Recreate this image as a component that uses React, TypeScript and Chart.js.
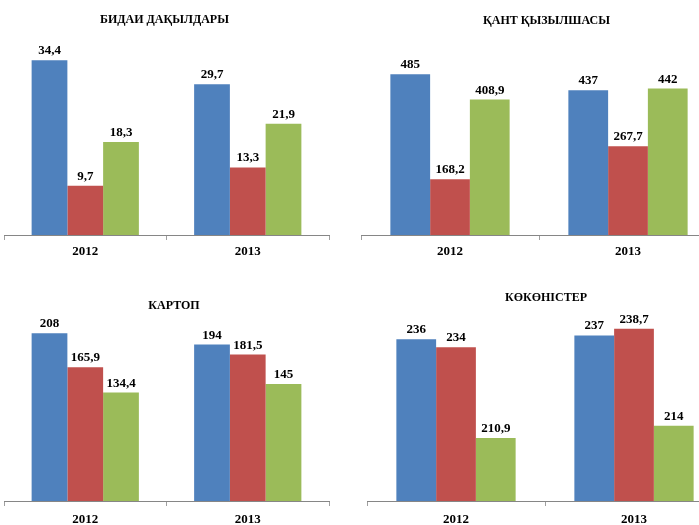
import React, { useEffect, useRef } from "react";
import { Chart, registerables } from "chart.js";

Chart.register(...registerables);

const years = ["2012", "2013"];
const seriesNames = ["Серия 1", "Серия 2", "Серия 3"];
const seriesColors = ["#4F81BD", "#C0504D", "#9BBB59"];

const wheatTitle = "БИДАИ ДАҚЫЛДАРЫ";
const wheatBlue = [34.4, 29.7];
const wheatRed = [9.7, 13.3];
const wheatGreen = [18.3, 21.9];

const sugarTitle = "ҚАНТ ҚЫЗЫЛШАСЫ";
const sugarBlue = [485, 437];
const sugarRed = [168.2, 267.7];
const sugarGreen = [408.9, 442];

const potatoTitle = "КАРТОП";
const potatoBlue = [208, 194];
const potatoRed = [165.9, 181.5];
const potatoGreen = [134.4, 145];

const vegTitle = "КӨКӨНІСТЕР";
const vegBlue = [236, 237];
const vegRed = [234, 238.7];
const vegGreen = [210.9, 214];

const FONT = '"Liberation Serif", "Times New Roman", serif';

const valueLabels = {
  id: "valueLabels",
  afterDatasetsDraw(chart: any) {
    const ctx = chart.ctx;
    ctx.save();
    ctx.font = `bold 13px ${FONT}`;
    ctx.fillStyle = "#000";
    ctx.textAlign = "center";
    ctx.textBaseline = "alphabetic";
    chart.data.datasets.forEach((ds: any, i: number) => {
      const meta = chart.getDatasetMeta(i);
      meta.data.forEach((el: any, j: number) => {
        const v = ds.data[j];
        ctx.fillText(String(v).replace(".", ","), el.x, el.y - 6);
      });
    });
    ctx.restore();
  },
};

type Panel = {
  title: string;
  series: number[][];
  left: number;
  top: number;
  width: number;
  height: number;
  padL: number;
  padR: number;
  padB: number;
  axisPos: "left" | "right";
  axisW: number;
  titleTop: number;
  titleBottom: number;
  tickPad: number;
  yMin: number;
  yMax: number;
  cat: number;
};

const panels: Panel[] = [
  {
    title: wheatTitle,
    series: [wheatBlue, wheatRed, wheatGreen],
    left: 0, top: 0, width: 349, height: 266,
    padL: 0, padR: 20, padB: 2, axisPos: "left", axisW: 4,
    titleTop: 12.3, titleBottom: 10, tickPad: 4.2,
    yMin: 0, yMax: 39.04, cat: 0.66,
  },
  {
    title: sugarTitle,
    series: [sugarBlue, sugarRed, sugarGreen],
    left: 349, top: 0, width: 400, height: 266,
    padL: 12, padR: 17, padB: 2, axisPos: "right", axisW: 15,
    titleTop: 13.3, titleBottom: 10, tickPad: 4.2,
    yMin: 0, yMax: 595.6, cat: 0.67,
  },
  {
    title: potatoTitle,
    series: [potatoBlue, potatoRed, potatoGreen],
    left: 0, top: 262, width: 349, height: 272,
    padL: 4, padR: 5, padB: 0, axisPos: "right", axisW: 15,
    titleTop: 37, titleBottom: 0, tickPad: 6.2,
    yMin: 0, yMax: 232.6, cat: 0.66,
  },
  {
    title: vegTitle,
    series: [vegBlue, vegRed, vegGreen],
    left: 349, top: 262, width: 400, height: 272,
    padL: 18, padR: 24, padB: 0, axisPos: "right", axisW: 2,
    titleTop: 28.5, titleBottom: 0, tickPad: 6.2,
    yMin: 194.84, yMax: 244.76, cat: 0.67,
  },
];

function PanelChart({ p }: { p: Panel }) {
  const ref = useRef<HTMLCanvasElement | null>(null);
  useEffect(() => {
    if (!ref.current) return;
    const chart = new Chart(ref.current, {
      type: "bar",
      data: {
        labels: years,
        datasets: p.series.map((d, i) => ({
          label: seriesNames[i],
          data: d,
          backgroundColor: seriesColors[i],
          borderWidth: 0,
          barPercentage: 1,
          categoryPercentage: p.cat,
        })),
      },
      options: {
        responsive: false,
        animation: false,
        devicePixelRatio: 1,
        layout: { padding: { left: p.padL, right: p.padR, top: 0, bottom: p.padB } },
        plugins: {
          legend: { display: false },
          tooltip: { enabled: false },
          title: {
            display: true,
            text: p.title,
            color: "#000",
            font: { family: FONT, size: 12, weight: "bold" },
            padding: { top: p.titleTop, bottom: p.titleBottom },
          },
        },
        scales: {
          x: {
            grid: {
              display: true,
              drawOnChartArea: false,
              drawTicks: true,
              tickLength: 5,
              color: "#a0a0a0",
              offset: true,
            },
            border: { display: true, color: "#868686", width: 1 },
            ticks: {
              color: "#000",
              padding: p.tickPad,
              font: { family: FONT, size: 13, weight: "bold" },
            },
          },
          y: {
            display: true,
            position: p.axisPos,
            min: p.yMin,
            max: p.yMax,
            ticks: { display: false },
            grid: { display: false },
            border: { display: false },
            afterFit: (s: any) => {
              s.width = p.axisW;
            },
          },
        },
      } as any,
      plugins: [valueLabels],
    });
    return () => chart.destroy();
  }, [p]);
  return (
    <canvas
      ref={ref}
      width={p.width}
      height={p.height}
      style={{
        position: "absolute",
        left: p.left,
        top: p.top,
        width: p.width,
        height: p.height,
      }}
    />
  );
}

export default function App() {
  return (
    <div
      style={{
        position: "fixed",
        left: 0,
        top: 0,
        width: 699,
        height: 525,
        overflow: "hidden",
        background: "#fff",
      }}
    >
      {panels.map((p, i) => (
        <PanelChart key={i} p={p} />
      ))}
    </div>
  );
}
